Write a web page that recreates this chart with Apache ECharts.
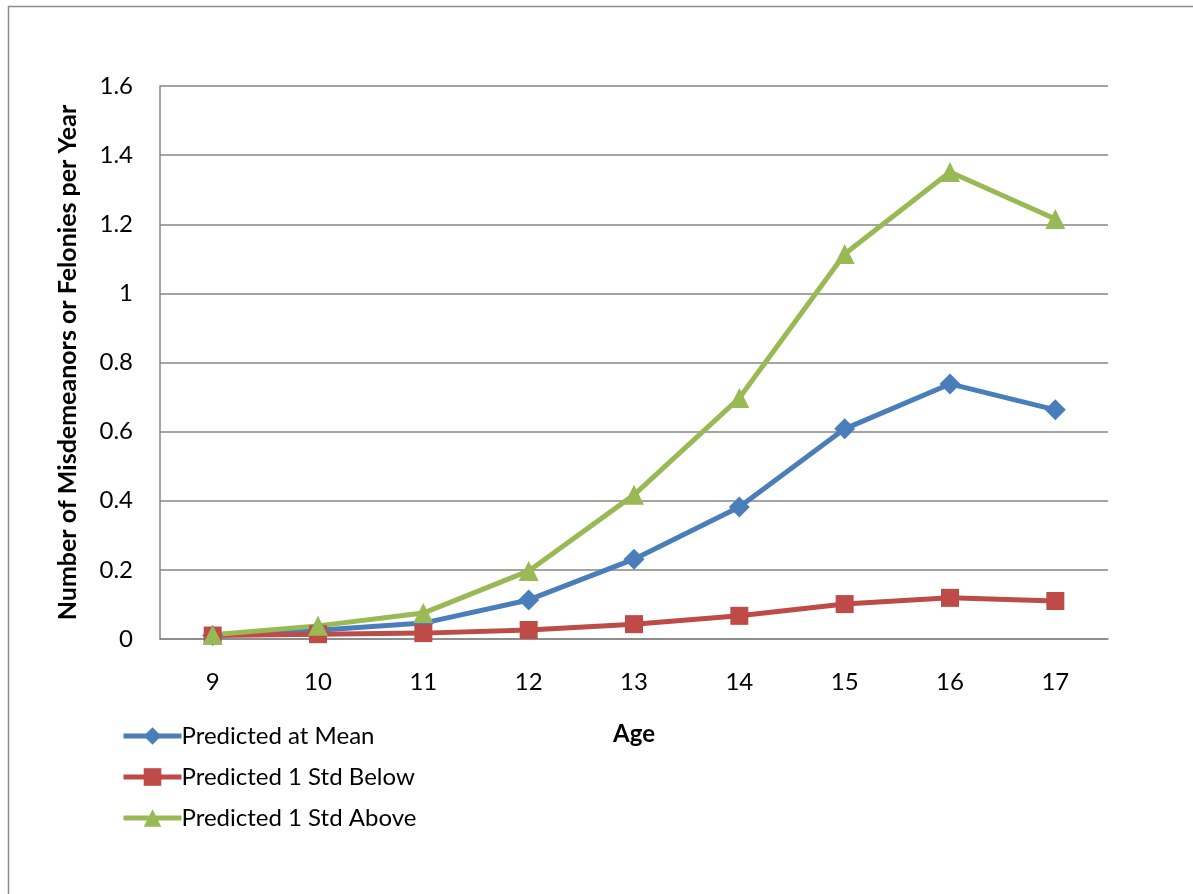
<!DOCTYPE html>
<html>
<head>
<meta charset="utf-8">
<script src="https://cdn.jsdelivr.net/npm/echarts@6/dist/echarts.min.js"></script>
<style>
  html, body { margin: 0; padding: 0; background: #fff; }
  #chart { width: 1193px; height: 894px; }
</style>
</head>
<body>
<div id="chart"></div>
<script>
// Ages on the horizontal axis
const ages = ['9', '10', '11', '12', '13', '14', '15', '16', '17'];

// Predicted yearly counts for each group
const predictedAtMean = [0.010, 0.025, 0.046, 0.113, 0.231, 0.382, 0.608, 0.738, 0.663];
const predictedBelow  = [0.010, 0.014, 0.017, 0.026, 0.043, 0.067, 0.101, 0.119, 0.110];
const predictedAbove  = [0.012, 0.038, 0.075, 0.197, 0.417, 0.697, 1.114, 1.351, 1.215];

const seriesNames = ['Predicted at Mean', 'Predicted 1 Std Below', 'Predicted 1 Std Above'];

const FONT = 'Lato, "Open Sans", sans-serif';
const chart = echarts.init(document.getElementById('chart'));

function lineSeries(name, data, color, symbol, size) {
  return {
    name: name,
    type: 'line',
    data: data,
    symbol: symbol,
    symbolSize: size,
    lineStyle: { color: color, width: 5 },
    itemStyle: { color: color },
    emphasis: { disabled: true },
    animation: false
  };
}

chart.setOption({
  backgroundColor: '#ffffff',
  animation: false,
  graphic: [{
    type: 'rect',
    shape: { x: 8.5, y: 6.5, width: 1200, height: 900 },
    style: { fill: 'none', stroke: '#8c8c8c', lineWidth: 1.5 },
    silent: true
  }],
  grid: { left: 160, right: 85, top: 86, bottom: 255 },
  legend: {
    orient: 'vertical',
    left: 116,
    top: 719,
    itemWidth: 58,
    itemHeight: 22,
    itemGap: 17,
    lineStyle: { width: 5 },
    textStyle: { fontFamily: FONT, fontSize: 24, color: '#000', padding: [0, 0, 0, -5] },
    data: seriesNames
  },
  xAxis: {
    type: 'category',
    data: ages,
    boundaryGap: true,
    name: 'Age',
    nameLocation: 'middle',
    nameGap: 83,
    nameTextStyle: { fontFamily: FONT, fontSize: 24, fontWeight: 'bold', color: '#000' },
    axisLine: { lineStyle: { color: '#868686', width: 1.5 } },
    axisTick: { show: false },
    axisLabel: { fontFamily: FONT, fontSize: 24, color: '#000', margin: 31 },
    splitLine: { show: false }
  },
  yAxis: {
    type: 'value',
    min: 0,
    max: 1.6,
    interval: 0.2,
    name: 'Number of Misdemeanors or Felonies per Year',
    nameLocation: 'middle',
    nameGap: 80,
    nameTextStyle: { fontFamily: FONT, fontSize: 25, fontWeight: 'bold', color: '#000' },
    axisLine: { show: true, lineStyle: { color: '#868686', width: 1.5 } },
    axisTick: { show: false },
    axisLabel: {
      fontFamily: FONT, fontSize: 24, color: '#000', margin: 27,
      formatter: v => String(Math.round(v * 10) / 10)
    },
    splitLine: { lineStyle: { color: '#868686', width: 1.5 } }
  },
  series: [
    lineSeries(seriesNames[0], predictedAtMean, '#4a7ebb', 'diamond', 21),
    lineSeries(seriesNames[1], predictedBelow, '#be4b48', 'rect', 18),
    lineSeries(seriesNames[2], predictedAbove, '#98b954', 'triangle', 20)
  ]
});
</script>
</body>
</html>
